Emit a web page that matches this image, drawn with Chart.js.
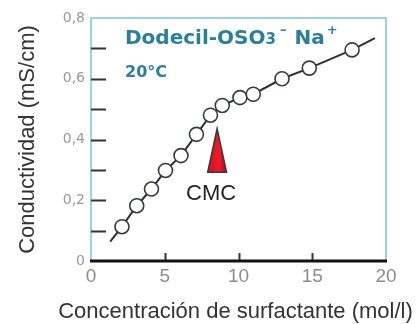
<!DOCTYPE html>
<html>
<head>
<meta charset="utf-8">
<script src="https://cdn.jsdelivr.net/npm/chart.js@4/dist/chart.umd.min.js"></script>
<style>
  html, body { margin: 0; padding: 0; background: #fff; }
  #wrap { width: 420px; height: 324px; }
</style>
</head>
<body>
<div id="wrap"><canvas id="chart"></canvas></div>
<script>
const concentration = [2.1, 3.1, 4.1, 5.05, 6.1, 7.15, 8.1, 8.9, 10.1, 11.0, 12.95, 14.8, 17.7];
const conductivity = [0.113, 0.182, 0.237, 0.298, 0.347, 0.417, 0.48, 0.512, 0.538, 0.549, 0.6, 0.635, 0.695];

// ends of the drawn curve, beyond the first and last circle
const curveStart = [1.3, 0.064];
const curveEnd = [19.25, 0.734];

// CMC marker: x position, tip and base heights, half width (data units)
const cmcX = 8.55;
const cmcTip = 0.436;
const cmcBase = 0.292;
const cmcHalfWidth = 0.64;

const xTicks = [0, 5, 10, 15, 20];
const yTicks = [0, 0.1, 0.2, 0.3, 0.4, 0.5, 0.6, 0.7, 0.8];

const xTitle = 'Concentración de surfactante (mol/l)';
const yTitle = 'Conductividad (mS/cm)';

const teal = '#2b7f9b';
const frameBlue = '#7cc4d8';
const sans = '"Liberation Sans", Arial, sans-serif';
const wide = '"DejaVu Sans", Verdana, sans-serif';

const points = concentration.map((x, i) => ({ x, y: conductivity[i] }));
const curve = [{ x: curveStart[0], y: curveStart[1] }, ...points, { x: curveEnd[0], y: curveEnd[1] }];

const decorations = {
    id: 'decorations',
    beforeDatasetsDraw(chart) {
        const { ctx, chartArea: a, scales: { x, y } } = chart;
        ctx.save();
        // light frame left / top / right
        ctx.strokeStyle = frameBlue;
        ctx.lineWidth = 1.5;
        ctx.beginPath();
        ctx.moveTo(a.left, a.bottom);
        ctx.lineTo(a.left, a.top);
        ctx.lineTo(a.right, a.top);
        ctx.lineTo(a.right, a.bottom);
        ctx.stroke();
        // inward tick marks
        ctx.strokeStyle = '#333';
        ctx.lineWidth = 2;
        yTicks.slice(1, -1).forEach(v => {
            const py = Math.round(y.getPixelForValue(v)) + 0.5;
            ctx.beginPath();
            ctx.moveTo(a.left, py);
            ctx.lineTo(a.left + 15, py);
            ctx.stroke();
        });
        xTicks.slice(1, -1).forEach(v => {
            const px = Math.round(x.getPixelForValue(v)) + 0.5;
            ctx.beginPath();
            ctx.moveTo(px, a.bottom);
            ctx.lineTo(px, a.bottom - 8);
            ctx.stroke();
        });
        // heavy bottom axis
        ctx.strokeStyle = '#111';
        ctx.lineWidth = 3;
        ctx.beginPath();
        ctx.moveTo(a.left - 1, a.bottom);
        ctx.lineTo(a.right + 1, a.bottom);
        ctx.stroke();
        ctx.restore();
    },
    afterDatasetsDraw(chart) {
        const { ctx, chartArea: a, scales: { x, y } } = chart;
        ctx.save();
        // CMC arrow
        const tipX = x.getPixelForValue(cmcX);
        const tipY = y.getPixelForValue(cmcTip);
        const baseY = y.getPixelForValue(cmcBase);
        const l = x.getPixelForValue(cmcX - cmcHalfWidth);
        const r = x.getPixelForValue(cmcX + cmcHalfWidth);
        const grad = ctx.createLinearGradient(l, 0, r, 0);
        grad.addColorStop(0, '#c8101e');
        grad.addColorStop(0.6, '#ee1c2c');
        grad.addColorStop(1, '#b00d18');
        ctx.fillStyle = grad;
        ctx.strokeStyle = '#3a3a3a';
        ctx.lineWidth = 1.5;
        ctx.beginPath();
        ctx.moveTo(tipX, tipY);
        ctx.lineTo(r, baseY);
        ctx.lineTo(l, baseY);
        ctx.closePath();
        ctx.fill();
        ctx.stroke();
        ctx.fillStyle = '#222';
        ctx.font = '22px ' + sans;
        ctx.textAlign = 'center';
        ctx.textBaseline = 'alphabetic';
        ctx.fillText('CMC', tipX - 6, baseY + 28);

        // compound label
        ctx.fillStyle = teal;
        ctx.textAlign = 'left';
        let cx = a.left + 34;
        const by = a.top + 26;
        const part = (t, font, dy) => {
            ctx.font = font;
            ctx.fillText(t, cx, by + dy);
            cx += ctx.measureText(t).width;
        };
        const big = 'bold 20px ' + wide;
        const small = 'bold 13px ' + wide;
        part('Dodecil-OSO', big, 0);
        part('3', 'bold 15px ' + wide, 0);
        cx += 4;
        part('\u2013', small, -10);
        cx += 8;
        part('Na', big, 0);
        cx += 2;
        part('+', small, -10);
        ctx.font = 'bold 16px ' + wide;
        ctx.fillText('20\u00b0C', a.left + 34, a.top + 59);
        ctx.restore();
    },
    afterDraw(chart) {
        // x title drawn here: the built-in one gets squeezed to the axis width
        const { ctx, chartArea: a } = chart;
        ctx.save();
        ctx.fillStyle = '#333';
        ctx.font = '22px ' + sans;
        ctx.textAlign = 'center';
        ctx.textBaseline = 'alphabetic';
        ctx.fillText(xTitle, (a.left + a.right) / 2 - 3, chart.height - 6);
        ctx.restore();
    }
};

new Chart(document.getElementById('chart'), {
    type: 'scatter',
    data: {
        datasets: [
            {
                label: 'curva',
                data: curve,
                showLine: true,
                borderColor: '#243434',
                borderWidth: 2,
                pointRadius: 0,
                order: 2
            },
            {
                label: 'medidas',
                data: points,
                pointRadius: 7,
                pointBorderWidth: 1.6,
                pointBorderColor: '#3a3a3a',
                pointBackgroundColor: '#ffffff',
                order: 1
            }
        ]
    },
    options: {
        responsive: true,
        maintainAspectRatio: false,
        animation: false,
        layout: { padding: { top: 18, right: 34, left: 0, bottom: 0 } },
        plugins: { legend: { display: false }, tooltip: { enabled: false } },
        scales: {
            x: {
                type: 'linear',
                min: 0,
                max: 20,
                afterFit: s => { s.height = 63; },
                afterBuildTicks: s => { s.ticks = xTicks.map(v => ({ value: v })); },
                grid: { display: false, drawTicks: false },
                border: { display: false },
                ticks: {
                    color: '#8c8c8c',
                    padding: 4,
                    font: { family: sans, size: 19 },
                    maxRotation: 0
                },
                title: { display: false }
            },
            y: {
                min: 0,
                max: 0.8,
                afterFit: s => { s.width = 91; },
                afterBuildTicks: s => { s.ticks = yTicks.map(v => ({ value: v })); },
                grid: { display: false, drawTicks: false },
                border: { display: false },
                ticks: {
                    color: '#999',
                    padding: 6,
                    font: { family: wide, size: 14 },
                    callback: v => {
                        const k = Math.round(v * 10);
                        if (k % 2 !== 0) return '';
                        return k === 0 ? '0' : (k / 10).toFixed(1).replace('.', ',');
                    }
                },
                title: {
                    display: true,
                    text: yTitle,
                    color: '#333',
                    font: { family: sans, size: 22 },
                    padding: { top: 15, bottom: 0 }
                }
            }
        }
    },
    plugins: [decorations]
});
</script>
</body>
</html>
